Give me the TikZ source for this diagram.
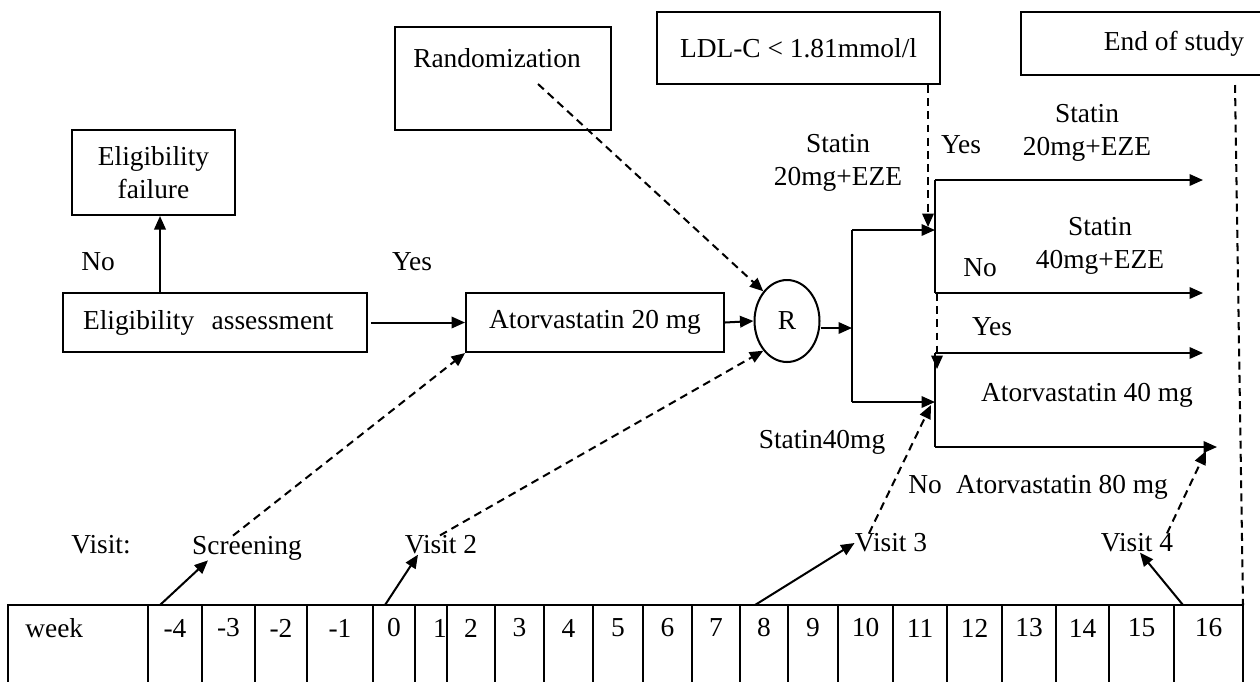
\documentclass[tikz,border=0pt]{standalone}
\usepackage{fontspec}
\setmainfont{Liberation Serif}
\usetikzlibrary{arrows.meta,shapes.geometric}
\tikzset{
  box/.style={draw, line width=1.15pt, inner sep=0pt, align=center},
  lbl/.style={inner sep=0pt, align=center},
  sline/.style={line width=1.15pt},
  arr/.style={line width=1.15pt, -{Triangle[length=2.7mm,width=2.3mm]}},
  darr/.style={line width=1.15pt, dash pattern=on 4.5pt off 3pt, -{Triangle[length=2.7mm,width=2.3mm]}},
  dline/.style={line width=1.15pt, dash pattern=on 4.5pt off 3pt},
}
\begin{document}
\begin{tikzpicture}[x=0.02cm,y=-0.02cm, every node/.append style={font=\fontsize{15.6}{18.5}\selectfont}]
\useasboundingbox (0,0) rectangle (1260,681);
\fill[white] (0,0) rectangle (1260,681);

% boxes
\node[box, minimum width=3.26cm, minimum height=1.7cm] (ef) at (153.5,172.5) {Eligibility\\failure};
\node[box, minimum width=6.08cm, minimum height=1.18cm, text width=5.28cm, inner xsep=0.4cm, align=left] (ea) at (215,322.5) {Eligibility\hspace{0.35cm}assessment};
\node[box, minimum width=5.16cm, minimum height=1.18cm] (at20) at (595,322.5) {Atorvastatin 20 mg};
\node[box, ellipse, minimum width=1.3cm, minimum height=1.64cm] (R) at (787,321) {R};
\node[box, minimum width=4.32cm, minimum height=2.06cm] (rb) at (503,78.5) {};
\node[lbl] (rt) at (497,58) {Randomization};
\node[box, minimum width=5.66cm, minimum height=1.44cm] (ldl) at (798.5,48) {LDL-C < 1.81mmol/l};
\node[box, minimum width=6.12cm, minimum height=1.26cm] (eos) at (1174,43.5) {End of study};

% labels
\node[lbl] (no1) at (98,262) {No};
\node[lbl] (yes1) at (412,262) {Yes};
\node[lbl] (s20a) at (838,163) {Statin\\20mg+EZE};
\node[lbl] (yes2) at (961,145) {Yes};
\node[lbl] (s20b) at (1087,133) {Statin\\20mg+EZE};
\node[lbl] (s40) at (1100,246) {Statin\\40mg+EZE};
\node[lbl] (no2) at (980,268) {No};
\node[lbl] (yes3) at (992,327) {Yes};
\node[lbl] (a40) at (1087,395) {Atorvastatin 40 mg};
\node[lbl] (st40) at (822,442) {Statin40mg};
\node[lbl] (no3) at (925,485) {No};
\node[lbl] (a80) at (1062,487) {Atorvastatin 80 mg};
\node[lbl] (vis) at (101,545) {Visit:};
\node[lbl] (scr) at (247,548) {Screening};
\node[lbl] (v2) at (441,545) {Visit 2};
\node[lbl] (v3) at (891,543) {Visit 3};
\node[lbl] (v4) at (1137,543) {Visit 4};

% table
\draw[sline] (8,685) -- (8,605) -- (1243,605) -- (1243,685);
\foreach \x in {148,202,255,307,373,415,447,495,544,593,643,692,740,788,838,893,947,1002,1056,1109,1174}
  \draw[sline] (\x,605) -- (\x,685);
\node[lbl, anchor=west] (wk) at (25,628) {week};
\foreach \x/\t [count=\i] in {175/-4,228.5/-3,281/-2,340/-1,394/0,440/1,471/2,519.5/3,568.5/4,618/5,667.5/6,716/7,764/8,813/9,865.5/10,920/11,974.5/12,1029/13,1082.5/14,1141.5/15,1208.5/16}
  \node[lbl] (c\i) at (\x,628) {\t};

% coordinates
\coordinate (sp) at (852,328);
\coordinate (spT) at (852,230);
\coordinate (spB) at (852,402);
\coordinate (tb1) at (935,180);
\coordinate (tb2) at (935,293);
\coordinate (bb1) at (935,353);
\coordinate (bb2) at (935,447);
\coordinate (e1) at (1203,180);
\coordinate (e2) at (1203,293);
\coordinate (e3) at (1203,353);
\coordinate (e4) at (1217,447);
\coordinate (ldlT) at (928,227);
\coordinate (ds) at (937,293);
\coordinate (de) at (937,369);
\coordinate (eosd) at (1235,85);
\coordinate (tbr) at (1243,605);
\coordinate (rs) at (538,84);
\coordinate (v3t) at (931,405);
\coordinate (v4t) at (1206,451);
\coordinate (t1) at (160,605);
\coordinate (t2) at (385,605);
\coordinate (t3) at (755,605);
\coordinate (t4) at (1183,605);

% solid connectors
\draw[arr] (ea.north -| 160,0) -- (ef.south -| 160,0);
\draw[arr] ([xshift=0.06cm]ea.east) -- (at20.west);
\draw[arr] (at20.east) -- (R.west);
\draw[arr] (R.east |- sp) -- (sp);
\draw[sline] (spT) -- (spB);
\draw[arr] (spT) -- (spT -| tb1);
\draw[arr] (spB) -- (spB -| bb1);
\draw[sline] (tb1) -- (tb2);
\draw[sline] (bb1) -- (bb2);
\draw[arr] (tb1) -- (e1);
\draw[arr] (tb2) -- (e2);
\draw[arr] (bb1) -- (e3);
\draw[arr] (bb2) -- (e4);

% dashed connectors
\draw[darr] (ldl.south -| 928,0) -- (ldlT);
\draw[darr] (ds) -- (de);
\draw[dline] (eosd) -- (tbr);
\draw[darr] (rs) -- (R.north west);
\draw[darr] (scr.north -| 233,0) -- (at20.south west);
\draw[darr] (v2.north -| 440,0) -- (R.south west);
\draw[darr] (v3.north -| 869,0) -- (v3t);
\draw[darr] (v4.north -| 1167,0) -- (v4t);

% visit arrows
\draw[arr] (t1) -- (scr.south -| 208,0);
\draw[arr] (t2) -- (v2.south -| 418,0);
\draw[arr] (t3) -- (v3.west);
\draw[arr] (t4) -- (v4.south -| 1140,0);
\end{tikzpicture}
\end{document}
